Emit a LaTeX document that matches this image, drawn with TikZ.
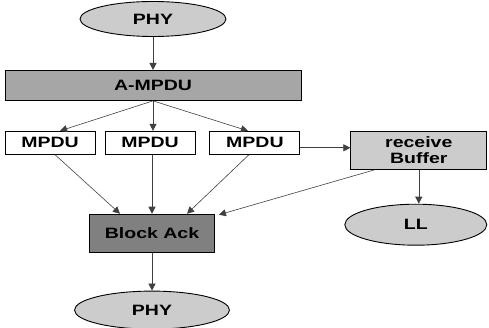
\documentclass[tikz,border=0pt]{standalone}
\usepackage{fontspec}
\setmainfont[FakeStretch=1.3]{Liberation Sans}
\usetikzlibrary{positioning,arrows.meta,shapes.geometric}

\tikzset{
  base/.style = {draw=black, line width=0.9pt, inner sep=0pt,
    font=\fontsize{15}{16}\selectfont\bfseries, align=center},
  layer/.style = {base, ellipse, fill=black!20},
  frame/.style = {base, rectangle, minimum height=30pt},
  unit/.style = {base, rectangle, fill=white, minimum width=90pt, minimum height=23pt},
  flow/.style = {draw=black!75, line width=0.6pt, -{Triangle[length=7pt,width=7pt]}},
}

\begin{document}
\begin{tikzpicture}[x=1pt,y=-1pt]
    \useasboundingbox (0,0) rectangle (489,328);

      \node[layer, minimum width=146pt, minimum height=35pt] (phy1) at (153,19) {PHY};
      \node[frame, fill=black!35, minimum width=296pt, below = 33pt of phy1] (ampdu) {A-MPDU};

      \node[unit, below = 30pt of ampdu, xshift=-3pt] (mpdu2) {MPDU};
      \node[unit, left = 9pt of mpdu2] (mpdu1) {MPDU};
      \node[unit, right = 14pt of mpdu2] (mpdu3) {MPDU};

      \node[frame, fill=black!20, minimum width=136pt, minimum height=38pt,
        right = 50pt of mpdu3.north east, anchor=north west] (buffer) {receive\\Buffer};
      \node[layer, minimum width=142pt, minimum height=41pt,
        below = 34pt of buffer, xshift=-3pt] (ll) {LL};

      \node[frame, fill=black!50, minimum width=125pt, minimum height=38pt,
        below = 59pt of mpdu2, xshift=2pt] (back) {Block Ack};
      \node[layer, minimum width=155pt, minimum height=38pt, below = 38pt of back] (phy2) {PHY};

      \draw[flow] (phy1) -- (ampdu);

      \draw[flow] (ampdu.south) -- ([xshift=10pt]mpdu1.north);
      \draw[flow] (ampdu.south) -- (ampdu.south |- mpdu2.north);
      \draw[flow] (ampdu.south) -- ([xshift=-7pt]mpdu3.north);

      \draw[flow] ([xshift=5pt]mpdu1.south) -- ([xshift=-32pt]back.north);
      \draw[flow] (mpdu2.south -| back.north) -- (back.north);
      \draw[flow] ([xshift=-6pt]mpdu3.south) -- ([xshift=35pt]back.north);

      \draw[flow] ([yshift=-5pt]mpdu3.east) -- ([yshift=-5pt]mpdu3.east -| buffer.west);
      \draw[flow] ([xshift=-44pt]buffer.south) -- ([xshift=4pt,yshift=-1pt]back.north east);
      \draw[flow] (buffer.south) -- (buffer.south |- ll.north);

      \draw[flow] (back) -- (phy2);
\end{tikzpicture}
\end{document}
